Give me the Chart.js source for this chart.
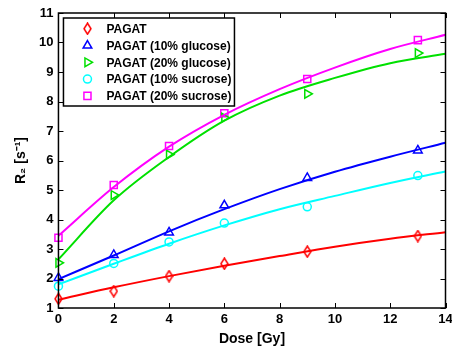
<!DOCTYPE html>
<html>
<head>
<meta charset="utf-8">
<script src="https://cdn.jsdelivr.net/npm/chart.js@4"></script>
<style>
  html, body { margin: 0; padding: 0; background: #fff; }
  #wrap { width: 452px; height: 347px; }
</style>
</head>
<body>
<div id="wrap"><canvas id="graficoR2"></canvas></div>
<script>
// measured points
const doses = [0, 2, 4, 6, 9, 13];
const pagat = [1.31, 1.57, 2.08, 2.50, 2.91, 3.44];
const glucose10 = [2.02, 2.80, 3.56, 4.48, 5.41, 6.34];
const glucose20 = [2.53, 4.83, 6.20, 7.45, 8.26, 9.64];
const sucrose10 = [1.74, 2.51, 3.24, 3.88, 4.43, 5.49];
const sucrose20 = [3.38, 5.17, 6.49, 7.60, 8.76, 10.08];

// fitted curves
const fitDoses = [0, 2, 4, 6, 8, 10, 12, 14];
const pagatFit = [1.28, 1.70, 2.08, 2.43, 2.76, 3.08, 3.35, 3.57];
const glucose10Fit = [1.98, 2.78, 3.60, 4.35, 5.03, 5.62, 6.13, 6.60];
const glucose20Fit = [2.65, 4.65, 6.12, 7.35, 8.20, 8.80, 9.30, 9.62];
const sucrose10Fit = [1.80, 2.50, 3.18, 3.80, 4.35, 4.80, 5.24, 5.63];
const sucrose20Fit = [3.45, 5.10, 6.47, 7.55, 8.42, 9.15, 9.78, 10.26];

const names = ['PAGAT', 'PAGAT (10% glucose)', 'PAGAT (20% glucose)', 'PAGAT (10% sucrose)', 'PAGAT (20% sucrose)'];
const colors = ['#ff0000', '#0000ff', '#00e000', '#00ffff', '#ff00ff'];

const xTicks = [0, 2, 4, 6, 8, 10, 12, 14];
const yTicks = [1, 2, 3, 4, 5, 6, 7, 8, 9, 10, 11];

const FONT = '"Liberation Sans", Arial, sans-serif';

// narrow matlab-like diamond
function diamond(color) {
  const c = document.createElement('canvas');
  c.width = 9; c.height = 13;
  const g = c.getContext('2d');
  g.strokeStyle = color; g.lineWidth = 1.5;
  g.beginPath();
  g.moveTo(4.5, 1); g.lineTo(8, 6.5); g.lineTo(4.5, 12); g.lineTo(1, 6.5); g.closePath();
  g.stroke();
  return c;
}

const markers = [
  { style: diamond(colors[0]), radius: 5, rotation: 0 },
  { style: 'triangle', radius: 5, rotation: 0 },
  { style: 'triangle', radius: 5, rotation: 90 },
  { style: 'circle', radius: 4, rotation: 0 },
  { style: 'rect', radius: 5, rotation: 0 }
];

const pointSeries = [pagat, glucose10, glucose20, sucrose10, sucrose20];
const fitSeries = [pagatFit, glucose10Fit, glucose20Fit, sucrose10Fit, sucrose20Fit];

const datasets = [];
fitSeries.forEach((vals, i) => {
  datasets.push({
    type: 'line',
    label: names[i] + ' fit',
    data: fitDoses.map((d, j) => ({ x: d, y: vals[j] })),
    borderColor: colors[i],
    borderWidth: 2,
    pointRadius: 0,
    cubicInterpolationMode: 'monotone',
    fill: false
  });
});
pointSeries.forEach((vals, i) => {
  datasets.push({
    type: 'scatter',
    label: names[i],
    data: doses.map((d, j) => ({ x: d, y: vals[j] })),
    borderColor: colors[i],
    backgroundColor: 'rgba(0,0,0,0)',
    borderWidth: 1.5,
    pointStyle: markers[i].style,
    pointRadius: markers[i].radius,
    pointRotation: markers[i].rotation,
    clip: false
  });
});

const boxTicks = {
  id: 'boxTicks',
  afterDatasetsDraw(chart) {
    const { ctx, chartArea: a, scales: { x, y } } = chart;
    ctx.save();
    ctx.strokeStyle = '#000';
    ctx.lineWidth = 1;
    ctx.beginPath();
    xTicks.forEach(v => {
      const px = Math.round(x.getPixelForValue(v)) + 0.5;
      ctx.moveTo(px, a.bottom); ctx.lineTo(px, a.bottom - 5);
      ctx.moveTo(px, a.top); ctx.lineTo(px, a.top + 5);
    });
    yTicks.forEach(v => {
      const py = Math.round(y.getPixelForValue(v)) + 0.5;
      ctx.moveTo(a.left, py); ctx.lineTo(a.left + 5, py);
      ctx.moveTo(a.right, py); ctx.lineTo(a.right - 5, py);
    });
    ctx.stroke();
    ctx.lineWidth = 1.5;
    ctx.strokeRect(a.left, a.top, a.right - a.left, a.bottom - a.top);

    // legend box
    const left = a.left + 5, top = a.top + 5, w = 171, h = 88;
    ctx.fillStyle = '#fff';
    ctx.fillRect(left, top, w, h);
    ctx.lineWidth = 1.5;
    ctx.strokeRect(left, top, w, h);
    ctx.font = 'bold 12px ' + FONT;
    ctx.textBaseline = 'middle';
    names.forEach((name, i) => {
      const cy = top + 10.7 + i * 16.8;
      ctx.strokeStyle = colors[i];
      ctx.fillStyle = 'rgba(0,0,0,0)';
      Chart.helpers.drawPoint(ctx, {
        pointStyle: markers[i].style,
        radius: markers[i].radius,
        rotation: markers[i].rotation,
        borderWidth: 1.5
      }, left + 24, cy);
      ctx.fillStyle = '#000';
      ctx.fillText(name, left + 43, cy + 1);
    });
    ctx.restore();
  }
};

new Chart(document.getElementById('graficoR2'), {
  data: { datasets: datasets },
  plugins: [boxTicks],
  options: {
    responsive: true,
    maintainAspectRatio: false,
    animation: false,
    layout: { padding: { top: 13, right: 6, left: 14, bottom: 1 } },
    plugins: {
      legend: { display: false },
      tooltip: { enabled: false }
    },
    scales: {
      x: {
        type: 'linear',
        min: 0, max: 14,
        afterBuildTicks: s => { s.ticks = xTicks.map(v => ({ value: v })); },
        afterFit: s => { s.paddingLeft = 0; s.paddingRight = 0; },
        grid: { display: false, drawTicks: false },
        border: { display: false },
        ticks: { color: '#000', padding: 5, font: { family: FONT, size: 13, weight: 'bold', lineHeight: 1 } },
        title: { display: true, text: 'Dose [Gy]', color: '#000', padding: { top: 1, bottom: 0 }, font: { family: FONT, size: 14, weight: 'bold', lineHeight: 1 } }
      },
      y: {
        type: 'linear',
        min: 1, max: 11,
        afterBuildTicks: s => { s.ticks = yTicks.map(v => ({ value: v })); },
        afterFit: s => { s.paddingTop = 0; s.paddingBottom = 0; },
        grid: { display: false, drawTicks: false },
        border: { display: false },
        ticks: { color: '#000', padding: 5, font: { family: FONT, size: 13, weight: 'bold', lineHeight: 1 } },
        title: { display: true, text: 'R₂ [s⁻¹]', color: '#000', padding: { top: 0, bottom: 6 }, font: { family: FONT, size: 14, weight: 'bold', lineHeight: 1 } }
      }
    }
  }
});
</script>
</body>
</html>
